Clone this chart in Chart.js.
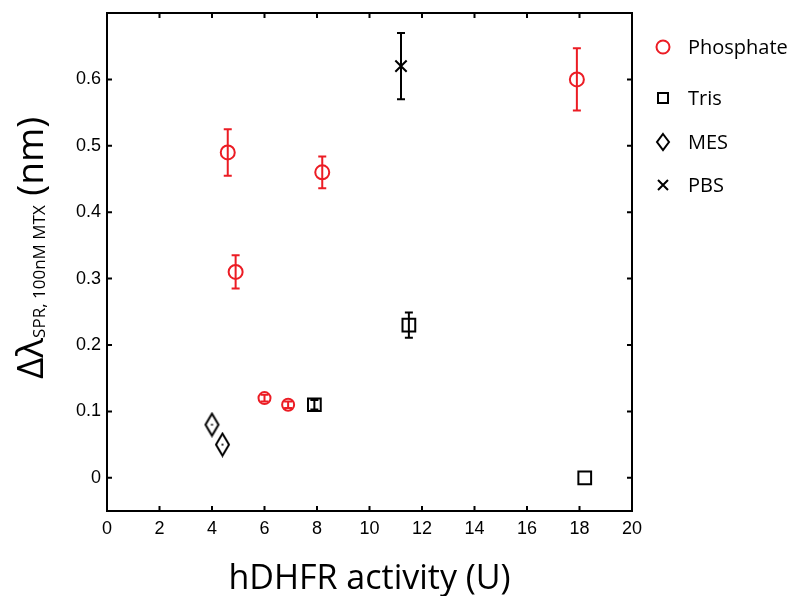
<!DOCTYPE html>
<html>
<head>
<meta charset="utf-8">
<script src="https://cdn.jsdelivr.net/npm/chart.js@4"></script>
<style>
  html, body { margin: 0; padding: 0; background: #fff; }
  #wrap { width: 793px; height: 596px; }
</style>
</head>
<body>
<div id="wrap"><canvas id="chart"></canvas></div>
<script>
// values
var phosphateX = [4.6, 4.9, 8.2, 6.0, 6.9, 17.9];
var phosphateY = [0.49, 0.31, 0.46, 0.12, 0.11, 0.60];
var phosphateErr = [0.035, 0.025, 0.024, 0.005, 0.005, 0.047];

var trisX = [7.9, 11.5, 18.2];
var trisY = [0.11, 0.23, 0.0];
var trisErr = [0.007, 0.019, 0];

var mesX = [4.0, 4.4];
var mesY = [0.08, 0.05];
var mesErr = [0, 0];

var pbsX = [11.2];
var pbsY = [0.62];
var pbsErr = [0.05];

var xTicks = [0, 2, 4, 6, 8, 10, 12, 14, 16, 18, 20];
var yTicks = [0, 0.1, 0.2, 0.3, 0.4, 0.5, 0.6];
var yTickLabels = ['0', '0.1', '0.2', '0.3', '0.4', '0.5', '0.6'];

var RED = '#ec1c24';
var tickFont = "'Liberation Sans', Arial, sans-serif";
var titleFont = "'Open Sans', sans-serif";

function toPoints(xs, ys, errs) {
    return xs.map(function (x, i) { return { x: x, y: ys[i], err: errs[i] }; });
}

// diamond marker (taller than wide, like the original), with the little centre dot
function diamondImage(w, h) {
    var c = document.createElement('canvas');
    c.width = w + 4;
    c.height = h + 4;
    var g = c.getContext('2d');
    g.strokeStyle = '#000';
    g.lineWidth = 2;
    g.beginPath();
    g.moveTo(c.width / 2, 2);
    g.lineTo(c.width - 2, c.height / 2);
    g.lineTo(c.width / 2, c.height - 2);
    g.lineTo(2, c.height / 2);
    g.closePath();
    g.stroke();
    g.fillStyle = '#333';
    g.fillRect(c.width / 2 - 1, c.height / 2 - 1, 2, 2);
    return c;
}
var diamond = diamondImage(13, 22);

var errorBars = {
    id: 'errorBars',
    afterDatasetsDraw: function (chart) {
        var ctx = chart.ctx, x = chart.scales.x, y = chart.scales.y;
        ctx.save();
        ctx.lineWidth = 2;
        chart.data.datasets.forEach(function (ds) {
            ctx.strokeStyle = ds.borderColor;
            ds.data.forEach(function (p) {
                if (!p.err) return;
                var px = x.getPixelForValue(p.x);
                var top = y.getPixelForValue(p.y + p.err);
                var bot = y.getPixelForValue(p.y - p.err);
                ctx.beginPath();
                ctx.moveTo(px, top); ctx.lineTo(px, bot);
                ctx.moveTo(px - 4, top); ctx.lineTo(px + 4, top);
                ctx.moveTo(px - 4, bot); ctx.lineTo(px + 4, bot);
                ctx.stroke();
            });
        });
        ctx.restore();
    }
};

var frame = {
    id: 'frame',
    afterDraw: function (chart) {
        var ctx = chart.ctx, a = chart.chartArea, x = chart.scales.x, y = chart.scales.y;
        ctx.save();
        ctx.strokeStyle = '#000';
        ctx.lineWidth = 2;
        ctx.strokeRect(a.left, a.top, a.right - a.left, a.bottom - a.top);
        ctx.beginPath();
        x.ticks.forEach(function (t) {
            var px = x.getPixelForValue(t.value);
            ctx.moveTo(px, a.bottom); ctx.lineTo(px, a.bottom - 5);
            ctx.moveTo(px, a.top); ctx.lineTo(px, a.top + 5);
        });
        y.ticks.forEach(function (t) {
            var py = y.getPixelForValue(t.value);
            ctx.moveTo(a.left, py); ctx.lineTo(a.left + 5, py);
            ctx.moveTo(a.right, py); ctx.lineTo(a.right - 5, py);
        });
        ctx.stroke();

        // x axis title
        ctx.fillStyle = '#000';
        ctx.font = "34px " + titleFont;
        ctx.textAlign = 'center';
        ctx.textBaseline = 'alphabetic';
        ctx.fillText('hDHFR activity (U)', (a.left + a.right) / 2, 589);

        // y axis title with subscript
        ctx.translate(43, 248);
        ctx.rotate(-Math.PI / 2);
        var big = "37px " + titleFont, small = "17px " + titleFont;
        var parts = [['\u0394\u03bb', big, 0], ['SPR, 100nM MTX', small, 2], [' (nm)', big, 0]];
        var total = 0;
        parts.forEach(function (p) { ctx.font = p[1]; total += ctx.measureText(p[0]).width; });
        var cx = -total / 2;
        ctx.textAlign = 'left';
        parts.forEach(function (p) {
            ctx.font = p[1];
            ctx.fillText(p[0], cx, p[2]);
            cx += ctx.measureText(p[0]).width;
        });
        ctx.restore();
    }
};

var legendRows = [47, 98, 142, 185];
var sideLegend = {
    id: 'sideLegend',
    afterDraw: function (chart) {
        var ctx = chart.ctx;
        ctx.save();
        chart.data.datasets.forEach(function (ds, i) {
            var ly = legendRows[i], lx = 663;
            ctx.strokeStyle = ds.borderColor;
            ctx.lineWidth = 2;
            ctx.beginPath();
            if (ds.label === 'Phosphate') {
                ctx.arc(lx, ly, 6.5, 0, Math.PI * 2);
            } else if (ds.label === 'Tris') {
                ctx.rect(lx - 5, ly - 5, 10, 10);
            } else if (ds.label === 'MES') {
                ctx.moveTo(lx, ly - 8); ctx.lineTo(lx + 6, ly); ctx.lineTo(lx, ly + 8); ctx.lineTo(lx - 6, ly); ctx.closePath();
            } else {
                ctx.moveTo(lx - 5, ly - 5); ctx.lineTo(lx + 5, ly + 5);
                ctx.moveTo(lx + 5, ly - 5); ctx.lineTo(lx - 5, ly + 5);
            }
            ctx.stroke();
            ctx.fillStyle = '#000';
            ctx.font = "20px " + titleFont;
            ctx.textAlign = 'left';
            ctx.textBaseline = 'middle';
            ctx.fillText(ds.label, 688, ly + 1);
        });
        ctx.restore();
    }
};

var ctx = document.getElementById('chart').getContext('2d');

var chart = new Chart(ctx, {
    type: 'scatter',
    data: {
        datasets: [
            {
                label: 'Phosphate',
                data: toPoints(phosphateX, phosphateY, phosphateErr),
                borderColor: RED,
                backgroundColor: 'rgba(0,0,0,0)',
                pointStyle: 'circle',
                pointRadius: [7, 7, 7, 6, 6, 7],
                borderWidth: 2
            },
            {
                label: 'Tris',
                data: toPoints(trisX, trisY, trisErr),
                borderColor: '#000',
                backgroundColor: 'rgba(0,0,0,0)',
                pointStyle: 'rect',
                pointRadius: 9,
                borderWidth: 2
            },
            {
                label: 'MES',
                data: toPoints(mesX, mesY, mesErr),
                borderColor: '#000',
                backgroundColor: 'rgba(0,0,0,0)',
                pointStyle: diamond,
                pointRadius: 10
            },
            {
                label: 'PBS',
                data: toPoints(pbsX, pbsY, pbsErr),
                borderColor: '#000',
                backgroundColor: 'rgba(0,0,0,0)',
                pointStyle: 'crossRot',
                pointRadius: 8,
                borderWidth: 2
            }
        ]
    },
    options: {
        responsive: true,
        maintainAspectRatio: false,
        animation: false,
        layout: { padding: { top: 13, right: 161, left: 0, bottom: 0 } },
        plugins: {
            legend: { display: false },
            tooltip: { enabled: false }
        },
        scales: {
            x: {
                type: 'linear',
                min: 0,
                max: 20,
                grid: { display: false, drawTicks: false },
                border: { display: false },
                afterBuildTicks: function (s) { s.ticks = xTicks.map(function (v) { return { value: v }; }); },
                afterFit: function (s) { s.height = 85; s.paddingLeft = 0; s.paddingRight = 0; },
                ticks: {
                    padding: 7,
                    color: '#000',
                    font: { family: tickFont, size: 18 },
                    maxRotation: 0,
                    autoSkip: false,
                    callback: function (v) { return String(v); }
                }
            },
            y: {
                type: 'linear',
                min: -0.05,
                max: 0.7,
                grid: { display: false, drawTicks: false },
                border: { display: false },
                afterBuildTicks: function (s) { s.ticks = yTicks.map(function (v) { return { value: v }; }); },
                afterFit: function (s) { s.width = 107; s.paddingTop = 0; s.paddingBottom = 0; },
                ticks: {
                    padding: 6,
                    color: '#000',
                    font: { family: tickFont, size: 18 },
                    autoSkip: false,
                    callback: function (v, i) { return yTickLabels[i]; }
                }
            }
        }
    },
    plugins: [errorBars, frame, sideLegend]
});
</script>
</body>
</html>
